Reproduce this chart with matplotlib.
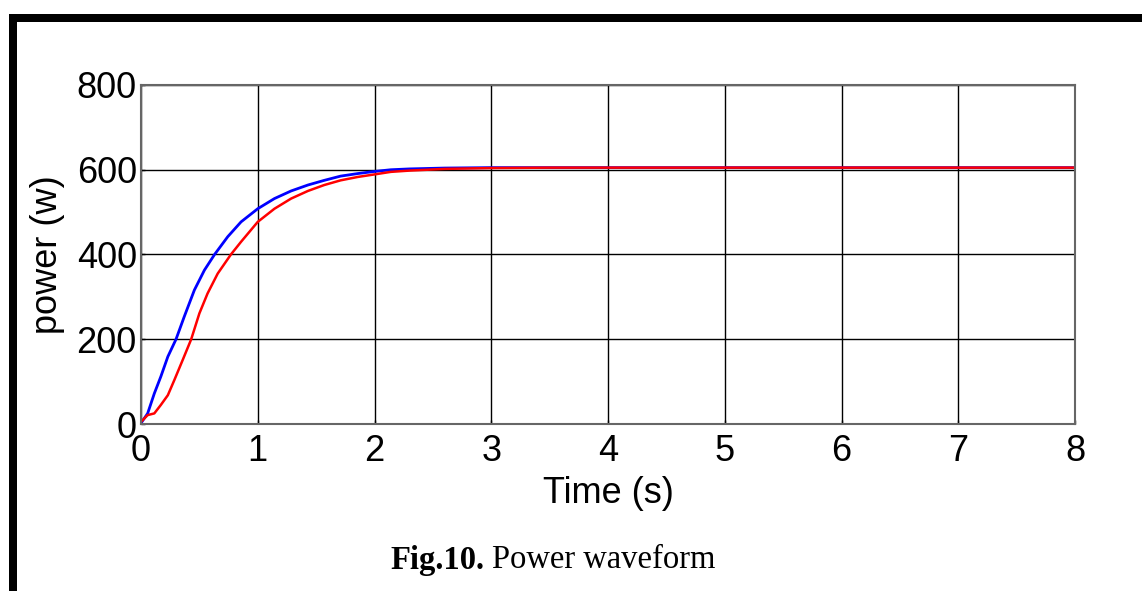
import matplotlib
matplotlib.use("Agg")
import matplotlib.pyplot as plt
from matplotlib.patches import Rectangle

# Data
t_blue = [0.0, 0.057, 0.114, 0.17, 0.23, 0.30, 0.37, 0.457, 0.543, 0.63, 0.743, 0.857, 1.0, 1.143,
          1.286, 1.43, 1.57, 1.71, 1.857, 2.0, 2.14, 2.3, 2.6, 3.0, 3.5, 4.0, 5.0, 6.0, 7.0, 8.0]
p_blue = [2, 25, 72, 112, 159, 200, 253, 316, 363, 400, 442, 477, 508, 532,
          550, 564, 575, 585, 591, 596, 600, 602, 604, 605, 605, 605, 605, 605, 605, 605]

t_red = [0.0, 0.057, 0.114, 0.17, 0.23, 0.286, 0.357, 0.43, 0.50, 0.57, 0.657, 0.77, 0.857, 1.0, 1.143,
         1.286, 1.43, 1.57, 1.71, 1.857, 2.0, 2.14, 2.3, 2.6, 3.0, 3.5, 4.0, 5.0, 6.0, 7.0, 8.0]
p_red = [5, 21, 25, 45, 68, 104, 151, 200, 261, 308, 355, 400, 430, 477, 508,
         532, 550, 564, 575, 583, 589, 595, 598, 602, 604, 605, 605, 605, 605, 605, 605]

x_ticks = [0, 1, 2, 3, 4, 5, 6, 7, 8]
y_ticks = [0, 200, 400, 600, 800]

fnt, fs = 'Liberation Sans', 26

W, H = 1142, 591
fig = plt.figure(figsize=(W / 100, H / 100), dpi=100)

# Page border (thick black lines top and left)
fig.add_artist(Rectangle((9 / W, 1 - 22 / H), (W - 9) / W, 8 / H, transform=fig.transFigure,
                         facecolor='black', edgecolor='none'))
fig.add_artist(Rectangle((9 / W, 0), 8 / W, 1 - 14 / H, transform=fig.transFigure,
                         facecolor='black', edgecolor='none'))

left, right, top, bottom = 141, 1075, 85, 424
ax = fig.add_axes([left / W, 1 - bottom / H, (right - left) / W, (bottom - top) / H])

ax.plot(t_blue, p_blue, color='#0000ff', lw=2.0)
ax.plot(t_red, p_red, color='#ff0000', lw=1.8)

ax.set_xlim(0, 8)
ax.set_ylim(0, 800)
ax.set_xticks(x_ticks)
ax.set_yticks(y_ticks)
ax.grid(True, color='black', lw=1.0)
for s in ax.spines.values():
    s.set_color('#666666')
    s.set_linewidth(1.5)

ax.tick_params(direction='in', length=3, width=1, colors='black', labelsize=fs)
ax.tick_params(axis='x', pad=7)
ax.tick_params(axis='y', pad=3)
for lab in ax.get_xticklabels() + ax.get_yticklabels():
    lab.set_fontfamily(fnt)

ax.set_xlabel('Time (s)', fontsize=fs, family=fnt, labelpad=5)
ax.set_ylabel('power (w)', fontsize=fs, family=fnt, labelpad=8)

t1 = fig.text(390 / W, 1 - 560 / H, 'Fig.10.', fontsize=23.5, family='Liberation Serif',
              fontweight='bold', va='center', ha='left')
fig.canvas.draw()
bb = t1.get_window_extent()
fig.text((bb.x1 + 8) / W, 1 - 560 / H, 'Power waveform', fontsize=23.5, family='Liberation Serif',
         va='center', ha='left')

fig.savefig('out.png', dpi=100)
